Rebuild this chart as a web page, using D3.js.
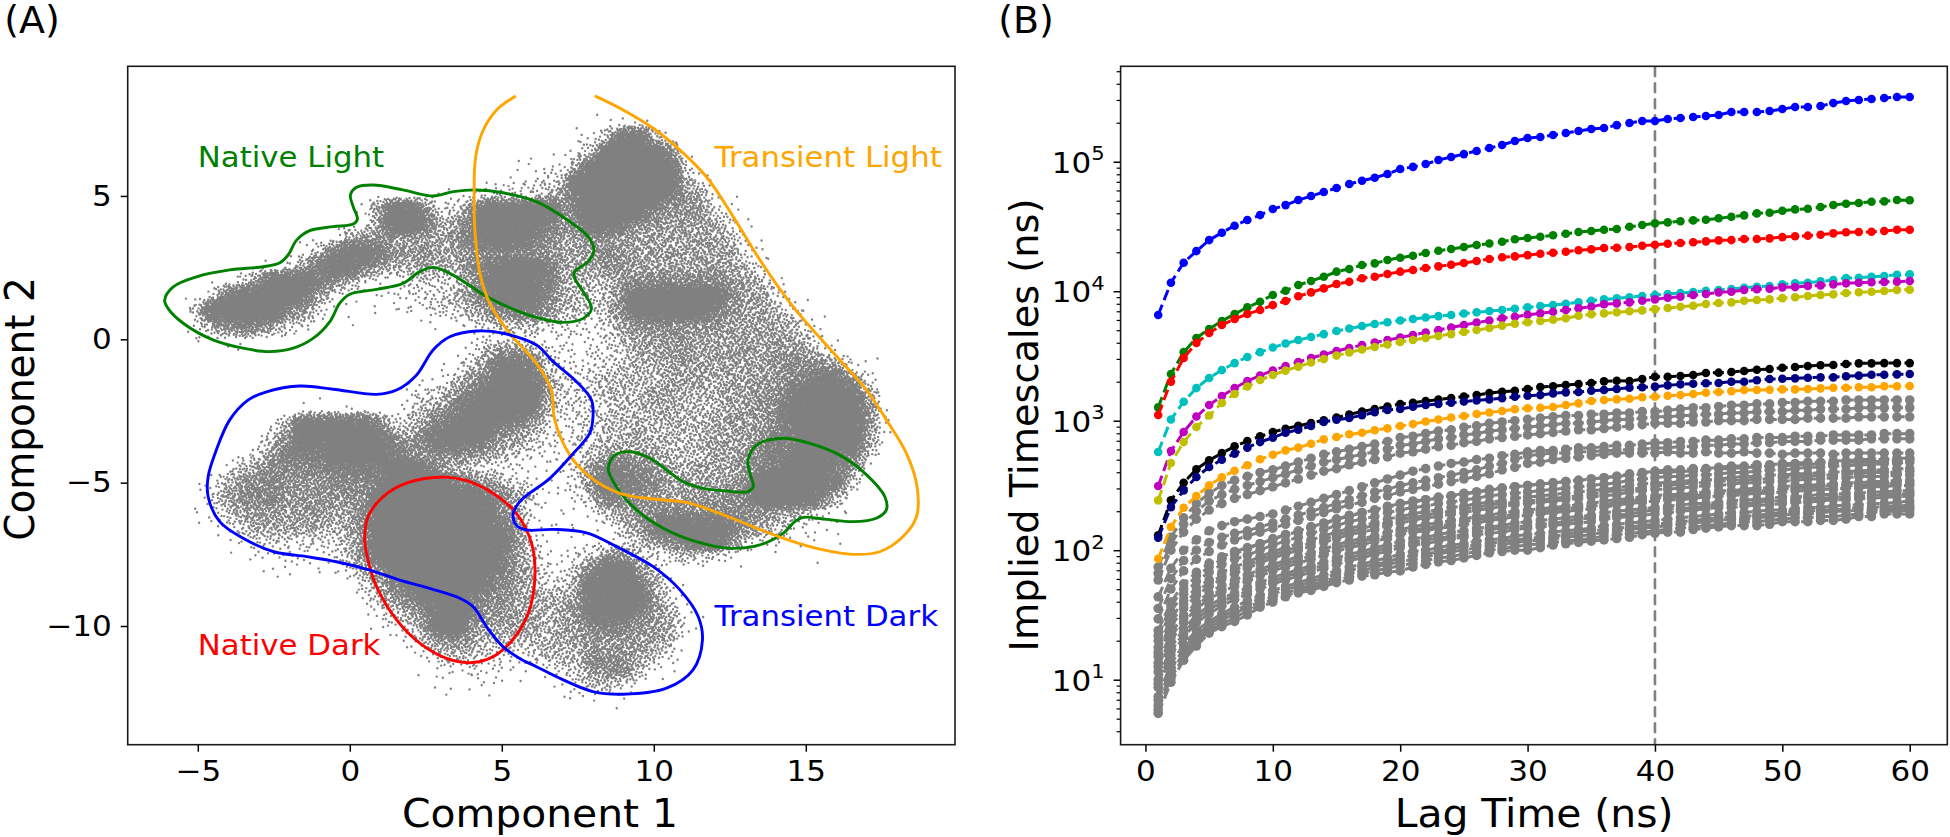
<!DOCTYPE html>
<html><head><meta charset="utf-8">
<script src="https://d3js.org/d3.v7.min.js"></script>
<style>html,body{margin:0;padding:0;background:#fff}svg{display:block}text{font-family:"DejaVu Sans",sans-serif;fill:#000}</style>
</head><body><svg id="c" width="1950" height="837"></svg>
<script>
// ---------- Panel A: estimated density of the scatter, read by eye (0 = empty, 9 = solid).
// Columns run from x=-6 in steps of 0.5 (pairs: x=n, n+0.5); rows run from y=8 in steps of -0.5.
const scatterDensityRows = [
"",
"00 00 00 00 00 00 00 00 00 00 00 00 00 00 01 22 10",
"00 00 00 00 00 00 00 00 00 00 00 00 00 01 24 99 40",
"00 00 00 00 00 00 00 00 00 00 00 00 00 02 49 99 97 10",
"00 00 00 00 00 00 00 00 00 00 00 01 12 25 99 99 99 31",
"00 00 00 00 00 00 00 00 00 00 01 12 23 49 99 99 99 53",
"00 00 00 00 00 00 00 01 11 11 23 33 34 68 99 99 98 65 10",
"00 00 00 00 00 00 01 69 97 33 79 99 99 68 99 99 76 66 31",
"00 00 00 00 00 00 01 69 98 45 89 99 98 67 99 86 65 55 53 10",
"00 00 00 00 00 01 56 65 55 56 89 99 87 55 66 55 55 55 54 20",
"00 00 00 00 01 48 99 86 66 55 67 77 76 55 67 65 55 55 55 31",
"00 00 00 01 36 89 97 54 45 54 78 99 98 55 56 65 55 55 55 42",
"00 00 13 79 99 86 42 11 33 33 68 99 98 54 44 67 77 77 76 54 20",
"00 03 89 99 98 52 11 12 23 34 68 99 97 54 34 79 99 99 97 55 31",
"00 49 99 99 76 31 00 11 22 33 46 78 87 44 34 79 99 99 86 55 43 10",
"00 25 78 76 32 10 10 00 00 11 23 44 43 32 23 56 77 66 65 55 54 21",
"00 11 11 10 00 00 00 00 00 01 12 22 21 22 23 45 56 65 55 55 55 42",
"00 00 00 00 00 00 00 00 00 00 25 77 53 22 33 35 55 65 55 65 66 54 20",
"00 00 00 00 00 00 00 00 00 12 46 99 84 22 33 44 45 55 55 55 67 77 63 10",
"00 00 00 00 00 00 00 00 11 24 68 99 96 33 34 44 45 55 45 56 67 89 97 31",
"00 00 00 00 00 00 00 00 23 46 89 99 95 33 34 44 55 44 45 56 68 99 99 52",
"00 00 00 00 11 11 11 11 34 68 99 99 84 33 33 44 45 44 45 56 79 99 99 72",
"00 00 00 02 59 99 99 73 46 89 99 87 53 23 34 44 44 44 55 55 78 99 99 72",
"00 00 00 14 79 99 99 97 58 99 98 65 42 23 34 45 44 44 55 56 88 99 99 62",
"00 00 11 36 88 89 99 98 76 77 65 43 22 22 45 65 54 44 55 67 88 99 98 41",
"00 01 24 57 77 78 88 89 98 54 32 22 11 23 68 87 65 45 55 67 89 99 86 20",
"00 12 46 77 66 67 77 89 99 98 76 43 21 13 79 88 75 55 55 79 99 99 83 10",
"00 13 57 77 66 66 67 99 99 99 98 75 31 12 48 77 65 56 66 79 99 98 41",
"00 12 45 66 56 65 57 99 99 99 99 75 21 11 24 56 77 77 77 76 65 42 10",
"00 01 24 55 55 54 57 99 99 99 99 85 21 11 12 46 89 99 98 75 43 21 10",
"00 00 12 33 33 33 47 99 99 99 99 96 31 11 11 24 67 89 97 42 21 11 10",
"00 00 01 22 22 22 47 99 99 99 99 86 32 12 36 53 23 44 32 10 10 10",
"00 00 00 01 10 11 35 79 99 99 99 86 42 24 79 96 31",
"00 00 00 00 10 00 03 58 99 99 98 75 43 35 99 98 52",
"00 00 00 00 00 00 02 46 79 99 87 75 54 46 99 99 63 10",
"00 00 00 00 00 00 00 24 57 99 86 65 54 56 99 98 64 20",
"00 00 00 00 00 00 00 12 36 99 65 55 54 56 78 76 65 21",
"00 00 00 00 00 00 00 01 24 67 54 44 44 55 66 66 54 10",
"00 00 00 00 00 00 00 00 12 44 43 32 34 44 76 65 42",
"00 00 00 00 00 00 00 00 01 22 32 21 12 34 67 74 21",
"00 00 00 00 00 00 00 00 00 11 11 10 01 13 44 31",
"00 00 00 00 00 00 00 00 00 00 00 00 00 01 11 10",
"00 00 00 00 00 00 00 00 00 00 00 00 00 01"
];
const densityDotsPerCell = [0,1.5,5,12,24,38,50,70,110,200];

// Hand-traced contours, in data units of Component 1 / Component 2.
const nativeLightContour = [[-6.09,1.37],[-5.81,1.83],[-5.04,2.18],[-3.95,2.42],[-2.85,2.53],[-2.3,2.67],[-2.03,2.94],[-1.75,3.46],[-1.32,3.79],[-.55,3.93],[.11,4.02],[.25,4.19],[.11,4.63],[.02,5.03],[.22,5.3],[.77,5.38],[1.75,5.21],[2.74,5],[3.4,5.15],[4.17,5.21],[5.04,5.11],[6.14,4.8],[7.24,4.1],[7.84,3.58],[8.03,3.11],[7.84,2.71],[7.4,2.36],[7.4,2.13],[7.68,1.66],[7.95,1.08],[7.68,.73],[7.02,.59],[6.25,.73],[5.59,.96],[4.5,1.49],[3.84,1.95],[3.18,2.36],[2.74,2.51],[2.3,2.36],[1.75,1.95],[.88,1.74],[0,1.57],[-.33,1.26],[-.66,.61],[-1.21,.03],[-1.86,-.31],[-2.63,-.43],[-3.51,-.31],[-4.5,-.02],[-5.48,.56],[-5.98,1.08]];
const transientLightContour = [[5.46,8.49],[4.83,8],[4.39,7.3],[4.14,6.37],[4.09,5.09],[4.12,3.7],[4.28,2.3],[4.6,1.26],[5.26,.21],[6.14,-.84],[6.63,-1.77],[6.74,-2.81],[7.24,-4.04],[7.89,-4.79],[8.88,-5.37],[9.98,-5.57],[11.07,-5.69],[12.17,-6.07],[13.27,-6.54],[14.36,-6.98],[15.46,-7.32],[16.56,-7.5],[17.43,-7.41],[18.2,-6.88],[18.64,-6.19],[18.66,-5.14],[18.31,-3.98],[17.65,-2.81],[17,-1.77],[16.12,-.72],[14.58,1.14],[13.49,2.77],[12.61,4.28],[11.73,5.67],[10.86,6.6],[9.98,7.36],[8.99,8],[8.06,8.49]];
const transientDarkContour = [[-3.35,-2.12],[-2.74,-1.83],[-1.64,-1.63],[-.55,-1.74],[.88,-1.92],[1.54,-1.77],[2.19,-1.25],[2.74,-.37],[3.29,.09],[4.17,.29],[5.04,.21],[6.14,-.2],[6.69,-.78],[7.46,-1.48],[7.95,-2.12],[8,-2.7],[7.89,-3.28],[7.35,-3.98],[6.58,-4.85],[5.59,-5.66],[5.37,-6.13],[5.48,-6.48],[5.81,-6.65],[6.69,-6.63],[7.79,-6.75],[8.88,-7.29],[9.98,-7.93],[10.86,-8.74],[11.46,-9.67],[11.6,-10.49],[11.29,-11.53],[10.42,-12.17],[8.99,-12.38],[8,-12.29],[7.02,-11.88],[6.14,-11.42],[5.59,-11.13],[5.04,-10.72],[4.5,-10.03],[4.06,-9.33],[3.62,-9.03],[2.63,-8.69],[1.64,-8.4],[.66,-8.05],[-.44,-7.76],[-1.42,-7.58],[-2.5,-7.41],[-3.51,-6.94],[-4.28,-6.36],[-4.66,-5.49],[-4.66,-4.79],[-4.39,-3.86],[-3.95,-2.81]];
const nativeDarkContour = [[.49,-7],[.6,-6.19],[1.1,-5.49],[1.86,-5.02],[2.96,-4.81],[3.84,-4.93],[4.71,-5.37],[5.48,-6.07],[5.98,-7.12],[6.09,-8.28],[5.87,-9.56],[5.26,-10.6],[4.6,-11.13],[3.95,-11.28],[3.18,-11.13],[2.3,-10.6],[1.54,-9.79],[.88,-8.63],[.6,-7.7]];
const transientLightInnerContour = [[8.5,-4.5],[8.72,-4.04],[9.21,-3.92],[9.87,-4.15],[10.42,-4.56],[10.97,-4.97],[11.63,-5.2],[12.39,-5.29],[13.05,-5.32],[13.27,-5.14],[13.16,-4.67],[13.1,-4.21],[13.38,-3.69],[14.25,-3.45],[15.13,-3.63],[16.12,-4.04],[17,-4.73],[17.6,-5.49],[17.65,-5.95],[17.32,-6.24],[16.56,-6.36],[15.68,-6.28],[14.91,-6.21],[14.64,-6.36],[14.25,-6.77],[13.49,-7.17],[12.5,-7.29],[11.4,-7.06],[10.31,-6.59],[9.43,-5.95],[8.77,-5.14]];
const regionLabels = ["Native Light","Transient Light","Native Dark","Transient Dark"];
const regionLabelX = [-5,12,-5,12];
const regionLabelY = [6,6,-11,-10];
const regionColours = ["#008000","#ffa500","#ff0000","#0000ff"];

// ---------- Panel B: log10 of the implied timescale (ns) at lag 1..60.
const lagTimes = d3.range(1,61);
const blueLog = [3.816,4.066,4.220,4.310,4.395,4.452,4.506,4.550,4.588,4.635,4.665,4.704,4.735,4.766,4.797,4.828,4.853,4.876,4.905,4.944,4.960,4.982,5.013,5.036,5.059,5.083,5.106,5.129,5.160,5.183,5.191,5.206,5.222,5.237,5.253,5.260,5.283,5.299,5.315,5.315,5.330,5.338,5.345,5.353,5.361,5.384,5.384,5.384,5.392,5.407,5.423,5.423,5.430,5.453,5.469,5.477,5.484,5.492,5.500,5.500];
const greenLog = [3.103,3.361,3.530,3.639,3.708,3.770,3.824,3.876,3.919,3.971,4.004,4.048,4.079,4.112,4.151,4.171,4.202,4.215,4.241,4.259,4.274,4.295,4.313,4.326,4.341,4.357,4.368,4.382,4.401,4.411,4.421,4.432,4.444,4.457,4.465,4.475,4.480,4.498,4.511,4.524,4.532,4.540,4.547,4.552,4.563,4.575,4.586,4.601,4.606,4.622,4.632,4.637,4.650,4.666,4.676,4.681,4.691,4.694,4.704,4.702];
const redLog = [3.044,3.301,3.484,3.600,3.677,3.739,3.785,3.824,3.855,3.893,3.924,3.961,3.991,4.022,4.056,4.073,4.100,4.112,4.133,4.151,4.164,4.179,4.192,4.205,4.218,4.233,4.249,4.262,4.269,4.279,4.289,4.297,4.305,4.316,4.323,4.334,4.336,4.341,4.351,4.359,4.367,4.372,4.378,4.385,4.393,4.395,4.403,4.403,4.408,4.418,4.424,4.429,4.436,4.447,4.455,4.457,4.459,4.465,4.475,4.475];
const cyanLog = [2.758,3.009,3.147,3.252,3.330,3.391,3.445,3.492,3.530,3.565,3.596,3.623,3.646,3.669,3.693,3.712,3.731,3.747,3.760,3.774,3.785,3.797,3.808,3.816,3.828,3.837,3.847,3.855,3.865,3.876,3.886,3.893,3.903,3.914,3.927,3.937,3.945,3.953,3.963,3.971,3.978,3.986,3.994,4.004,4.009,4.017,4.027,4.035,4.040,4.053,4.061,4.066,4.076,4.086,4.102,4.104,4.112,4.117,4.127,4.130];
const magentaLog = [2.496,2.766,2.913,3.032,3.121,3.191,3.252,3.306,3.349,3.387,3.422,3.453,3.484,3.511,3.538,3.561,3.585,3.604,3.623,3.642,3.662,3.681,3.700,3.720,3.739,3.758,3.774,3.791,3.803,3.818,3.829,3.842,3.855,3.868,3.880,3.899,3.906,3.914,3.927,3.937,3.950,3.957,3.971,3.978,3.991,3.996,4.009,4.015,4.019,4.030,4.032,4.040,4.045,4.053,4.061,4.066,4.069,4.071,4.074,4.079];
const oliveLog = [2.385,2.673,2.835,2.951,3.040,3.137,3.206,3.264,3.314,3.353,3.387,3.418,3.449,3.476,3.503,3.527,3.550,3.569,3.588,3.608,3.623,3.639,3.654,3.669,3.685,3.700,3.716,3.734,3.749,3.760,3.770,3.780,3.791,3.811,3.822,3.829,3.837,3.845,3.852,3.862,3.870,3.880,3.888,3.901,3.909,3.914,3.927,3.932,3.937,3.947,3.953,3.963,3.971,3.976,3.986,3.992,3.996,4.002,4.009,4.012];
const blackLog = [2.115,2.385,2.521,2.625,2.694,2.750,2.802,2.843,2.879,2.913,2.938,2.961,2.982,3.003,3.025,3.048,3.071,3.090,3.110,3.129,3.139,3.152,3.163,3.175,3.187,3.198,3.214,3.224,3.231,3.245,3.260,3.266,3.276,3.283,3.291,3.304,3.309,3.306,3.322,3.340,3.340,3.345,3.353,3.368,3.371,3.376,3.384,3.394,3.399,3.409,3.415,3.422,3.428,3.430,3.438,3.443,3.443,3.445,3.445,3.445];
const navyLog = [2.096,2.333,2.462,2.565,2.642,2.699,2.745,2.792,2.835,2.869,2.907,2.930,2.959,2.990,3.008,3.021,3.042,3.065,3.083,3.090,3.108,3.121,3.129,3.139,3.148,3.157,3.165,3.173,3.185,3.193,3.198,3.211,3.219,3.222,3.232,3.237,3.245,3.255,3.258,3.263,3.273,3.281,3.286,3.289,3.291,3.301,3.301,3.312,3.322,3.324,3.327,3.332,3.335,3.335,3.343,3.348,3.355,3.355,3.358,3.361];
const orangeLog = [1.934,2.179,2.328,2.418,2.501,2.563,2.614,2.656,2.702,2.737,2.771,2.792,2.822,2.856,2.874,2.895,2.907,2.926,2.941,2.959,2.974,2.994,3.009,3.025,3.036,3.052,3.064,3.075,3.088,3.096,3.100,3.106,3.121,3.134,3.152,3.160,3.165,3.170,3.181,3.185,3.193,3.198,3.206,3.216,3.222,3.227,3.237,3.237,3.239,3.242,3.242,3.245,3.250,3.255,3.255,3.258,3.258,3.266,3.266,3.268];
const colouredSeriesLog = [blueLog,greenLog,redLog,cyanLog,magentaLog,oliveLog,blackLog,navyLog,orangeLog];
const colouredSeriesColours = ["#0000ff","#008000","#ff0000","#00bfbf","#bf00bf","#bfbf00","#000000","#000080","#ffa500"];

// The overlapping grey band: log10 values in hundredths, estimated by eye.
const grayA = [187,210,225,236,244,250,254,257,260,262,265,268,271,274,276,278,280,282,284,287,288,290,292,293,295,296,298,299,300,301,302,303,304,304,305,305,306,306,307,307,308,309,310,310,311,312,312,313,313,314,314,315,315,315,316,316,316,316,316,316];
const grayB = [182,205,220,230,238,243,247,250,253,256,259,262,265,268,270,272,274,276,278,281,282,284,286,287,289,290,292,293,294,295,296,297,298,298,299,300,301,301,302,303,303,304,304,305,305,306,306,307,307,307,308,308,309,309,309,310,310,310,310,310];
const grayC = [177,200,214,224,231,236,240,243,246,249,252,255,258,261,263,266,268,270,272,275,276,278,280,281,283,284,286,287,288,289,290,291,292,293,293,294,295,296,297,298,298,298,299,299,300,300,300,301,301,301,301,302,302,302,302,303,303,303,303,303];
const grayD = [164,186,200,208,215,219,222,224,226,228,231,234,237,240,243,246,249,252,255,258,261,263,265,267,268,270,271,273,274,276,277,277,278,279,279,280,281,281,282,283,283,284,284,285,285,286,286,287,287,287,288,288,288,289,289,289,289,290,290,290];
const grayE = [155,178,192,200,206,210,213,215,218,221,224,227,230,233,236,239,242,245,247,250,252,254,256,258,260,262,265,267,270,273,274,275,275,276,276,277,277,278,278,279,279,280,280,281,281,282,282,283,283,284,284,284,285,285,285,285,286,286,286,286];
const grayF = [147,170,184,193,199,204,208,211,214,217,220,223,226,229,232,235,237,240,242,245,247,249,251,253,255,257,259,262,264,267,268,270,271,272,273,274,275,275,275,275,276,275,275,276,275,275,276,275,275,274,275,275,275,274,275,275,275,275,275,275];
const grayG = [138,160,174,183,190,195,199,202,205,209,212,215,218,221,224,227,229,231,234,236,238,239,241,242,244,245,247,248,249,250,251,252,253,254,255,256,257,259,260,261,262,262,263,263,264,265,265,266,266,267,267,268,268,269,269,270,270,270,271,271];
const grayH = [130,153,166,176,183,189,193,196,200,204,207,210,213,216,219,222,224,226,229,231,233,234,236,237,239,240,242,243,244,245,246,247,248,249,250,251,252,254,255,256,257,257,258,258,259,260,260,261,262,262,263,264,264,265,265,266,266,267,267,268];
const grayI = [125,147,161,171,177,183,187,191,195,199,202,205,208,211,214,217,219,221,224,226,228,230,231,233,234,236,237,238,240,241,242,243,244,245,246,247,248,250,251,252,252,253,254,254,255,256,257,257,258,258,259,259,260,260,261,261,262,262,263,263];
const grayJ = [118,141,155,165,172,178,182,186,190,194,197,200,203,206,209,212,214,216,219,221,223,225,226,228,229,231,232,234,235,236,237,238,239,240,241,242,243,245,246,247,247,248,249,250,250,251,252,252,253,253,254,255,255,256,256,257,257,257,258,258];
const grayK = [113,136,149,160,167,173,177,181,185,189,192,195,198,201,204,207,209,211,214,216,218,220,221,223,224,226,227,229,230,231,232,233,234,235,236,238,239,240,241,242,243,243,244,245,246,246,247,248,248,249,250,250,251,251,252,252,253,253,254,254];
const grayL = [106,130,144,155,162,168,172,176,180,184,187,190,193,196,199,202,204,207,209,212,214,215,217,218,220,221,223,224,226,227,228,229,230,231,232,233,235,236,237,238,239,239,240,241,242,242,243,244,244,245,246,246,247,247,248,248,249,249,250,250];
const grayM = [100,125,139,150,157,163,167,171,175,179,182,185,188,191,194,197,199,202,204,207,209,210,212,214,215,217,218,219,221,222,223,224,225,226,227,229,230,231,232,233,234,235,236,236,237,238,239,239,240,241,241,242,243,243,244,244,245,245,246,246];
const grayN = [94,119,133,144,151,157,162,166,170,174,177,180,183,186,189,192,194,197,199,202,204,205,207,209,210,212,213,214,216,217,218,219,220,221,222,224,225,226,227,228,229,230,231,232,233,233,234,235,235,236,237,237,238,239,239,240,240,241,241,242];
const grayO = [87,112,127,138,145,151,156,161,165,169,172,175,178,181,184,187,189,192,194,197,199,200,202,204,205,207,208,209,211,212,213,214,215,216,217,219,220,221,222,223,224,225,226,227,228,229,229,230,231,231,232,233,233,234,235,235,236,236,237,238];
const grayP = [80,105,121,132,140,146,151,156,160,164,167,170,173,176,179,182,184,187,189,191,193,195,197,199,200,202,203,204,206,207,208,209,210,211,212,214,215,216,217,218,219,220,221,222,223,224,224,225,226,227,228,228,229,230,230,231,231,232,232,233];
const grayQ = [74,98,115,126,136,141,145,150,156,160,164,167,169,172,175,177,180,181,183,184,187,189,191,192,194,196,198,199,200,200,202,204,205,206,207,208,209,210,212,213,214,214,216,217,218,219,219,219,220,222,222,222,223,223,224,226,226,228,228,228];
const grayR = [134,157,170,180,187,193,197,201,205,208,212,214,218,220,224,226,229,231,233,236,237,239,240,242,243,245,246,248,249,250,251,252,253,254,255,256,257,258,259,260,260,261,261,262,263,263,264,264,265,265,266,266,267,267,268,268,268,269,269,270];
const grayS = [121,144,158,168,175,180,185,188,193,196,200,202,206,208,212,214,217,219,221,224,225,227,229,230,232,233,235,236,237,238,239,240,241,242,243,245,246,247,248,250,250,251,252,252,253,254,254,255,255,256,257,257,258,258,259,259,260,260,260,261];
const grayT = [110,133,147,158,164,170,175,178,183,186,190,192,196,198,202,204,207,209,211,214,216,217,219,220,222,224,225,226,228,229,230,231,232,233,234,235,237,238,239,240,241,241,242,243,244,244,245,246,246,247,248,248,249,250,250,250,251,251,252,252];
const grayU = [97,122,136,147,154,160,165,168,173,176,180,182,186,188,192,194,197,199,202,204,206,208,209,211,212,214,216,217,218,219,220,221,222,224,225,226,227,228,230,231,232,232,233,234,235,236,236,237,238,238,239,240,240,241,241,242,242,243,243,244];
const grayV = [84,108,124,135,142,149,153,158,163,166,170,172,176,178,182,184,187,189,191,194,196,197,199,201,203,204,205,207,208,209,210,211,212,214,215,216,217,218,219,220,221,222,223,224,225,226,226,227,228,229,230,230,231,231,232,233,233,234,234,235];
const grayW = [77,101,118,129,138,143,148,153,158,162,165,168,171,174,177,179,182,184,186,188,190,192,194,195,197,199,200,201,203,204,205,206,207,208,209,211,212,213,214,215,216,217,218,219,220,221,222,222,223,224,225,225,226,226,227,228,229,230,230,231];
const graySeries = [grayQ,grayW,grayP,grayV,grayO,grayN,grayU,grayM,grayL,grayK,grayT,grayJ,grayS,grayI,grayH,grayR,grayG,grayF,grayE,grayD,grayC,grayB,grayA];
const referenceLag = 40;

// ---------- Geometry and helpers
const svg = d3.select("#c");
const stretch = 1.07, labelStretch = 1.04, tickFont = 29;
const A = {l:127.7,r:955,t:66.3,b:744.7}, B = {l:1120.6,r:1947.3,t:66.3,b:744.7};
const xA = d3.scaleLinear().domain([(A.l-349.8)/30.4,(A.r-349.8)/30.4]).range([A.l,A.r]);
const yA = d3.scaleLinear().domain([(339.3-A.b)/28.67,(339.3-A.t)/28.67]).range([A.b,A.t]);
const xB = d3.scaleLinear().domain([-1.95,62.95]).range([B.l,B.r]);
const yB = d3.scaleLog().domain([10**0.498,10**5.737]).range([B.b,B.t]);

function stretchText(sel){
  sel.each(function(){
    const t=d3.select(this), x=+t.attr("x")||0, y=+t.attr("y")||0;
    t.attr("x",0).attr("y",0).attr("transform",`translate(${x},${y}) scale(${stretch},1)`);
  });
}
function frameAxes(b,xS,yS,xTicks,yTicks,yFmt){
  const gx=svg.append("g").attr("transform",`translate(0,${b.b})`)
    .call(d3.axisBottom(xS).tickValues(xTicks).tickSize(7).tickPadding(9).tickSizeOuter(0));
  const gy=svg.append("g").attr("transform",`translate(${b.l},0)`)
    .call(d3.axisLeft(yS).tickValues(yTicks).tickSize(7).tickPadding(9).tickSizeOuter(0).tickFormat(yFmt));
  [gx,gy].forEach(g=>{
    g.selectAll(".domain").remove();
    g.selectAll("line").attr("stroke","#000").attr("stroke-width",1.5);
    g.selectAll("text").attr("font-size",tickFont).attr("font-family","DejaVu Sans").call(stretchText);
  });
  svg.append("rect").attr("x",b.l).attr("y",b.t).attr("width",b.r-b.l).attr("height",b.b-b.t)
    .attr("fill","none").attr("stroke","#1a1a1a").attr("stroke-width",1.6);
  return gy;
}
function addText(str,x,y,size,fill,rot){
  const sx = fill===undefined ? labelStretch : stretch;
  return svg.append("text").text(str).attr("font-size",size).attr("fill",fill||"#000")
    .attr("transform",`translate(${x},${y}) scale(${sx},1)`+(rot?" rotate(-90)":""))
    .attr("text-anchor",rot||fill===undefined?"middle":"start").style("fill",fill||"#000");
}

// ---------- Panel A scatter: density map sampled with a fixed Halton low-discrepancy sequence
const grid = scatterDensityRows.map(r=>{
  const s=r.replace(/ /g,""); return d3.range(52).map(i=>densityDotsPerCell[+(s[i]||0)]);
});
function densityAt(x,y){
  const u=(x+6)/0.5, v=(8-y)/0.5, i=Math.floor(u), j=Math.floor(v);
  if(i<0||j<0||i>=51||j>=grid.length-1) return 0;
  const fu=u-i, fv=v-j;
  return (1-fv)*((1-fu)*grid[j][i]+fu*grid[j][i+1])+fv*((1-fu)*grid[j+1][i]+fu*grid[j+1][i+1]);
}
function halton(k,b){let f=1,r=0;while(k>0){f/=b;r+=f*(k%b);k=Math.floor(k/b);}return r;}
const maxDots=200, cells=51*(grid.length-1), spanX=25.5, spanY=(grid.length-1)*0.5;
let dots=[];
for(let k=1;k<=cells*maxDots;k++){
  const dx=-6+halton(k,2)*spanX, dy=8-halton(k,3)*spanY;
  if(halton(k,7)*maxDots<densityAt(dx,dy)) dots.push(`M${xA(dx).toFixed(1)} ${yA(dy).toFixed(1)}h0`);
}
svg.append("path").attr("d",dots.join("")).attr("fill","none").attr("stroke","#808080")
  .attr("stroke-width",2.4).attr("stroke-linecap","round");

// ---------- Panel A contours and labels
const closedLine=d3.line().x(d=>xA(d[0])).y(d=>yA(d[1])).curve(d3.curveCatmullRomClosed.alpha(.5));
const openLine=d3.line().x(d=>xA(d[0])).y(d=>yA(d[1])).curve(d3.curveCatmullRom.alpha(.5));
const drawContour=(pts,col,gen)=>svg.append("path").attr("d",gen(pts)).attr("fill","none").attr("stroke",col).attr("stroke-width",2.9);
drawContour(nativeLightContour,"#008000",closedLine);
drawContour(transientLightInnerContour,"#008000",closedLine);
drawContour(transientLightContour,"#ffa500",openLine);
drawContour(nativeDarkContour,"#ff0000",closedLine);
drawContour(transientDarkContour,"#0000ff",closedLine);
regionLabels.forEach((s,i)=>addText(s,xA(regionLabelX[i]),yA(regionLabelY[i]),28.8,regionColours[i]));

frameAxes(A,xA,yA,[-5,0,5,10,15],[-10,-5,0,5],d3.format("d"));
addText("Component 1",540,827,39.3);
addText("Component 2",34,409,39,undefined,true);
addText("(A)",32,33,36.5);

// ---------- Panel B
svg.append("line").attr("x1",xB(referenceLag)).attr("x2",xB(referenceLag)).attr("y1",B.t).attr("y2",B.b)
  .attr("stroke","#808080").attr("stroke-width",2.6).attr("stroke-dasharray","11 5");
const lineB=d3.line().x((d,i)=>xB(lagTimes[i])).y(d=>yB(d));
function drawSeries(values,col,r){
  const g=svg.append("g");
  g.append("path").attr("d",lineB(values)).attr("fill","none").attr("stroke",col).attr("stroke-width",3).attr("stroke-dasharray","11 5");
  g.selectAll("circle").data(values).join("circle").attr("cx",(d,i)=>xB(lagTimes[i])).attr("cy",d=>yB(d)).attr("r",r).attr("fill",col);
}
graySeries.forEach(s=>drawSeries(s.map(v=>10**(v/100)),"#808080",4.8));
colouredSeriesLog.forEach((s,i)=>drawSeries(s.map(v=>10**v),colouredSeriesColours[i],4.3));

const gy=frameAxes(B,xB,yB,[0,10,20,30,40,50,60],[10,100,1000,10000,100000],d=>String(Math.round(Math.log10(d))));
gy.selectAll("text").each(function(d){
  const t=d3.select(this), e=Math.round(Math.log10(d));
  t.text(""); t.append("tspan").text("10").attr("dy","0.36em").attr("font-size",tickFont);
  t.append("tspan").text(e).attr("dy","-0.62em").attr("font-size",tickFont*0.68);
});
const minor=[];
for(let e=0;e<6;e++) for(let m=2;m<10;m++){const v=m*10**e; if(v>=yB.domain()[0]&&v<=yB.domain()[1]) minor.push(v);}
const gm=svg.append("g").attr("transform",`translate(${B.l},0)`).call(d3.axisLeft(yB).tickValues(minor).tickSize(4).tickFormat(""));
gm.selectAll(".domain").remove(); gm.selectAll("line").attr("stroke","#000").attr("stroke-width",1.2);
addText("Lag Time (ns)",1534,827,39.3);
addText("Implied Timescales (ns)",1038,425,38.3,undefined,true);
addText("(B)",1026,33,36.5);
</script></body></html>
